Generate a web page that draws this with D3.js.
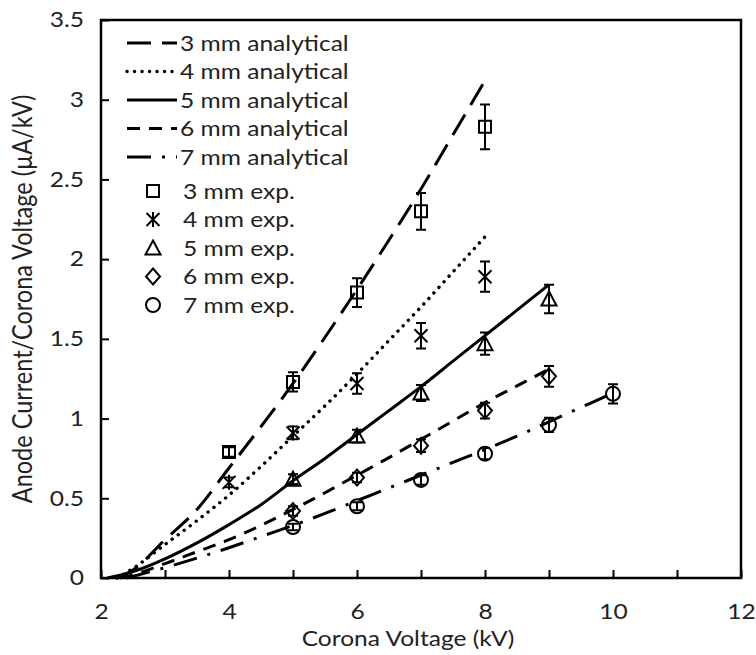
<!DOCTYPE html>
<html>
<head>
<meta charset="utf-8">
<script src="https://cdn.jsdelivr.net/npm/d3@7"></script>
<style>
  body { margin: 0; background: #fff; }
  text { font-family: Lato, "Open Sans", sans-serif; fill: #222; }
</style>
</head>
<body>
<svg id="chart" width="756" height="655"></svg>
<script>
// ---- data ---------------------------------------------------------------
const gapLabels = ["3 mm", "4 mm", "5 mm", "6 mm", "7 mm"];

// analytical curves: corona voltage (kV) vs I/V (uA/kV)
const anaV3 = [2.25, 2.5, 3, 3.5, 4, 4.5, 5, 5.5, 6, 6.5, 7, 7.5, 8];
const anaI3 = [0, 0.05, 0.24, 0.43, 0.69, 0.95, 1.22, 1.51, 1.81, 2.12, 2.44, 2.78, 3.12];
const anaV4 = [2.25, 2.5, 3, 3.5, 4, 4.5, 5, 5.5, 6, 6.5, 7, 7.5, 8];
const anaI4 = [0, 0.06, 0.21, 0.36, 0.52, 0.70, 0.89, 1.08, 1.28, 1.49, 1.70, 1.92, 2.14];
const anaV5 = [2.1, 2.5, 3, 3.5, 4, 4.5, 5, 5.5, 6, 6.5, 7, 7.5, 8, 8.5, 9];
const anaI5 = [0, 0.04, 0.12, 0.22, 0.335, 0.46, 0.61, 0.75, 0.90, 1.05, 1.20, 1.36, 1.52, 1.68, 1.84];
const anaV6 = [2.3, 2.5, 3, 3.5, 4, 4.5, 5, 5.5, 6, 6.5, 7, 7.5, 8, 8.5, 9];
const anaI6 = [0, 0.02, 0.09, 0.165, 0.24, 0.33, 0.43, 0.535, 0.645, 0.755, 0.87, 0.985, 1.10, 1.205, 1.31];
const anaV7 = [2.4, 3, 3.5, 4, 4.5, 5, 5.5, 6, 6.5, 7, 7.5, 8, 8.5, 9, 9.5, 10];
const anaI7 = [0, 0.065, 0.125, 0.19, 0.26, 0.33, 0.405, 0.485, 0.565, 0.645, 0.725, 0.805, 0.89, 0.98, 1.07, 1.16];

// experimental points with error bars
const expV3 = [4, 5, 6, 7, 8];
const expI3 = [0.79, 1.23, 1.79, 2.30, 2.83];
const expE3 = [0.03, 0.06, 0.09, 0.115, 0.14];
const expV4 = [4, 5, 6, 7, 8];
const expI4 = [0.60, 0.91, 1.22, 1.52, 1.89];
const expE4 = [0.03, 0.04, 0.065, 0.08, 0.095];
const expV5 = [5, 6, 7, 8, 9];
const expI5 = [0.62, 0.89, 1.16, 1.47, 1.75];
const expE5 = [0.03, 0.04, 0.05, 0.07, 0.09];
const expV6 = [5, 6, 7, 8, 9];
const expI6 = [0.42, 0.63, 0.83, 1.05, 1.265];
const expE6 = [0.03, 0.03, 0.04, 0.05, 0.065];
const expV7 = [5, 6, 7, 8, 9, 10];
const expI7 = [0.32, 0.45, 0.615, 0.78, 0.96, 1.155];
const expE7 = [0.02, 0.025, 0.03, 0.035, 0.045, 0.06];

const xTicks = [2, 3, 4, 5, 6, 7, 8, 9, 10, 11, 12];
const xTickLabels = ["2", "", "4", "", "6", "", "8", "", "10", "", "12"];
const yTicks = [0, 0.5, 1, 1.5, 2, 2.5, 3, 3.5];
const yTickLabels = ["0", "0.5", "1", "1.5", "2", "2.5", "3", "3.5"];

const xTitle = "Corona Voltage (kV)";
const yTitle = "Anode Current/Corona Voltage (\u00b5A/kV)";

// ---- layout --------------------------------------------------------------
const svg = d3.select("#chart");
const plotL = 101, plotR = 741, plotT = 20, plotB = 578;
const FS = 21;      // font size
const SX = 1.17;    // horizontal widening of the lettering

const x = d3.scaleLinear().domain([2, 12]).range([plotL, plotR]);
const y = d3.scaleLinear().domain([0, 3.5]).range([plotB, plotT]);

// line styles for the analytical curves
const lineStyles = [
  { dash: "24 11", cap: "butt" },         // long dash
  { dash: "0.1 7.4", cap: "round" },      // round dot
  { dash: null, cap: "butt" },            // solid
  { dash: "13 9", cap: "butt" },          // dash
  { dash: "24 11 3 11", cap: "butt" }     // long dash dot
];

const analytical = [
  d3.zip(anaV3, anaI3), d3.zip(anaV4, anaI4), d3.zip(anaV5, anaI5),
  d3.zip(anaV6, anaI6), d3.zip(anaV7, anaI7)
];
const experimental = [
  { v: expV3, i: expI3, e: expE3, shape: "square" },
  { v: expV4, i: expI4, e: expE4, shape: "star" },
  { v: expV5, i: expI5, e: expE5, shape: "triangle" },
  { v: expV6, i: expI6, e: expE6, shape: "diamond" },
  { v: expV7, i: expI7, e: expE7, shape: "circle" }
];

// marker path centred on (0,0)
function markerPath(shape) {
  switch (shape) {
    case "square": return "M-6,-6H6V6H-6Z";
    case "triangle": return "M0,-7.5L7.5,6.5H-7.5Z";
    case "diamond": return "M0,-8L7,0L0,8L-7,0Z";
    case "circle": return "M7,0A7,7 0 1,1 -7,0A7,7 0 1,1 7,0Z";
    case "star": return "M-6.5,-6.5L6.5,6.5M-6.5,6.5L6.5,-6.5M0,-7.5V7.5";
  }
}

// horizontal text placed at (px, py), widened by SX about its anchor
function label(px, py, str, anchor) {
  return svg.append("text")
    .attr("transform", `translate(${px},${py}) scale(${SX},1)`)
    .attr("text-anchor", anchor || "start")
    .attr("font-size", FS)
    .text(str);
}

// ---- axes ---------------------------------------------------------------
const yPad = 17;
const xAxis = d3.axisBottom(x).tickValues(xTicks)
  .tickSizeInner(-8).tickSizeOuter(0).tickPadding(26)
  .tickFormat((d, k) => xTickLabels[k]);
const yAxis = d3.axisLeft(y).tickValues(yTicks)
  .tickSizeInner(-8).tickSizeOuter(0).tickPadding(yPad)
  .tickFormat((d, k) => yTickLabels[k]);

const gx = svg.append("g").attr("transform", `translate(0,${plotB})`).call(xAxis);
const gy = svg.append("g").attr("transform", `translate(${plotL},0)`).call(yAxis);
[gx, gy].forEach(g => {
  g.select(".domain").remove();
  g.selectAll(".tick line").attr("stroke", "#000").attr("stroke-width", 2);
  g.selectAll(".tick text").attr("font-size", FS).attr("fill", "#222")
    .style("font-family", "Lato, 'Open Sans', sans-serif");
});
gx.selectAll(".tick text").attr("transform", `scale(${SX},1)`);
gy.selectAll(".tick text")
  .attr("x", -yPad / SX)
  .attr("transform", `scale(${SX},1)`);

// plot frame
svg.append("rect")
  .attr("x", plotL).attr("y", plotT)
  .attr("width", plotR - plotL).attr("height", plotB - plotT)
  .attr("fill", "none").attr("stroke", "#000").attr("stroke-width", 2.5);

// axis titles
label(408, 646, xTitle, "middle");
svg.append("text")
  .attr("transform", `translate(25,${(plotT + plotB) / 2}) rotate(-90) scale(1,${SX})`)
  .attr("text-anchor", "middle").attr("dominant-baseline", "middle")
  .attr("font-size", 23.5)
  .text(yTitle);

// ---- analytical curves --------------------------------------------------
const line = d3.line().x(d => x(d[0])).y(d => y(d[1])).curve(d3.curveMonotoneX);
analytical.forEach((pts, k) => {
  svg.append("path")
    .attr("d", line(pts))
    .attr("fill", "none").attr("stroke", "#000")
    .attr("stroke-width", k === 1 ? 3.4 : 3)
    .attr("stroke-linecap", lineStyles[k].cap)
    .attr("stroke-dasharray", lineStyles[k].dash);
});

// ---- experimental points ------------------------------------------------
experimental.forEach(s => {
  const pts = s.v.map((v, j) => ({ v, i: s.i[j], e: s.e[j] }));
  const g = svg.append("g").attr("stroke", "#000").attr("fill", "none");
  // error bars
  pts.forEach(p => {
    const cx = x(p.v), y0 = y(p.i - p.e), y1 = y(p.i + p.e);
    g.append("path")
      .attr("d", `M${cx},${y0}V${y1}M${cx - 5},${y0}H${cx + 5}M${cx - 5},${y1}H${cx + 5}`)
      .attr("stroke-width", 2);
  });
  // markers
  g.selectAll("path.marker").data(pts).join("path")
    .attr("class", "marker")
    .attr("d", markerPath(s.shape))
    .attr("transform", p => `translate(${x(p.v)},${y(p.i)})`)
    .attr("stroke-width", 2);
});

// ---- legend ---------------------------------------------------------------
const legX0 = 127, legX1 = 177, legTextX = 180, legMarkX = 153;
const legRowsAna = [43, 71.5, 100, 128.5, 157];
const legRowsExp = [191, 219.5, 248, 276.5, 305];

gapLabels.forEach((lab, k) => {
  const yy = legRowsAna[k];
  svg.append("line")
    .attr("x1", legX0).attr("x2", legX1).attr("y1", yy).attr("y2", yy)
    .attr("stroke", "#000").attr("stroke-width", k === 1 ? 3.4 : 3)
    .attr("stroke-linecap", lineStyles[k].cap)
    .attr("stroke-dasharray", lineStyles[k].dash);
  label(legTextX, yy + 7.5, lab + " analytical");
});
gapLabels.forEach((lab, k) => {
  const yy = legRowsExp[k];
  svg.append("path")
    .attr("d", markerPath(experimental[k].shape))
    .attr("transform", `translate(${legMarkX},${yy})`)
    .attr("fill", "none").attr("stroke", "#000").attr("stroke-width", 2);
  label(legTextX + 3, yy + 7.5, lab + " exp.");
});
</script>
</body>
</html>
